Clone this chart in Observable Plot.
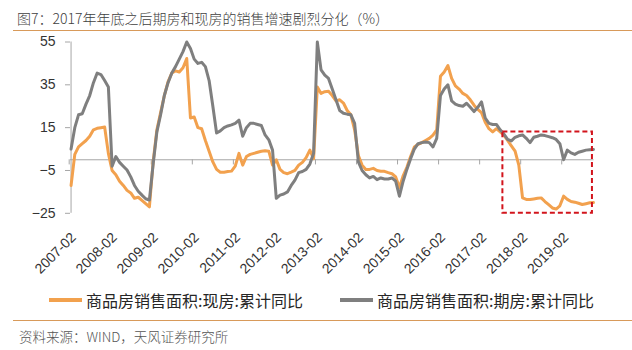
<!DOCTYPE html>
<html><head><meta charset="utf-8">
<script src="https://cdn.jsdelivr.net/npm/d3@7"></script>
<script src="https://cdn.jsdelivr.net/npm/@observablehq/plot@0.6"></script>
<style>
body{margin:0;background:#fff;font-family:"Noto Sans CJK SC",sans-serif;}
#wrap{position:relative;width:632px;height:350px;overflow:hidden;background:#fff;}
#title{position:absolute;left:17px;top:9px;font-size:14px;color:#404040;line-height:18px;white-space:nowrap;font-weight:300;}
.rule{position:absolute;left:13px;width:619px;height:0;border-top:1.5px solid #D89A5A;}
#chart{position:absolute;left:0;top:32px;}
#legend{position:absolute;top:289px;left:0;width:632px;height:22px;font-size:16px;color:#262626;}
.item{position:absolute;top:0;display:flex;align-items:center;height:22px;white-space:nowrap;}
.sw{display:inline-block;width:33px;height:3.5px;margin-right:4px;}
#source{position:absolute;left:19px;top:327px;font-size:13.5px;color:#555;line-height:18px;white-space:nowrap;font-weight:300;}
</style></head><body>
<div id="wrap">
  <div id="title">图7：2017年年底之后期房和现房的销售增速剧烈分化（%）</div>
  <div class="rule" style="top:30px"></div>
  <div id="chart"></div>
  <div id="legend"></div>
  <div class="rule" style="top:320px"></div>
  <div id="source">资料来源：WIND，天风证券研究所</div>
</div>
<script>
// Categories: monthly cumulative data, Feb–Dec each year (Jan-Feb combined), 2007-02 .. 2019-10
const years = [2007,2008,2009,2010,2011,2012,2013,2014,2015,2016,2017,2018,2019];
const months = [];
for (const y of years) for (let m = 2; m <= 12; m++) {
  if (y === 2019 && m > 10) break;
  months.push(`${y}-${String(m).padStart(2,"0")}`);
}
const xTickLabels = years.map(y => `${y}-02`);
const yTicks = [-25, -5, 15, 35, 55];

const seriesNames = ["商品房销售面积:现房:累计同比", "商品房销售面积:期房:累计同比"];
const seriesColors = ["#F2A14E", "#7F7F7F"];

// 现房 (completed housing) cumulative YoY, %
const spotValues = [
  -12, 2.5, 6, 7.5, 9, 11, 14, 14.7, 15, 15.3, 3,
  -5, -7, -10, -12, -14.3, -15.5, -18, -17.5, -19, -20.5, -22,
  -1, 14, 22, 30, 36.5, 40.5, 41.5, 41, 43, 47.3, 19.5,
  20, 15, 14.5, 9, 4, -1, -4.5, -5.8, -5.8, -5.5, -5.3,
  -3, 3, -2.5, 1.5, 2.5, 3, 3.5, 4, 4.2, 4, -2.5,
  0, -4.5, -6, -6.5, -5.8, -5, -2.5, -1.2, 1, 4.5, 0.5,
  34, 31, 31.8, 32, 30, 27.5, 28, 26.5, 23, 21, 14,
  2, -2.5, -4.5, -4.5, -4, -5, -5.4, -5.4, -6, -6.5, -8,
  -13, -7.5, -3.5, 1.5, 6, 7.2, 8, 9, 10, 11.5, 14,
  39, 41, 44, 38, 34.5, 33, 31, 30, 28, 25.5, 23.5,
  22, 17.5, 14.5, 13, 14.5, 13, 11.5, 9, 6.5, 4, -2.5,
  -17.8, -18.5, -18.6, -18.3, -18, -17.8, -19.5, -21, -22.5, -23, -21.5,
  -17, -18.5, -19.5, -19.8, -20.3, -20.9, -20.5, -20.1, -20
];
// 期房 (pre-sale housing) cumulative YoY, %
const futureValues = [
  5, 15, 21, 21.5, 26, 30, 36, 40.5, 39.8, 37, 34,
  -3, 1.5, -1.2, -3, -4.8, -8, -12, -14.7, -16.5, -18.2, -18.8,
  -2, 13, 21, 30, 36, 40.5, 43.5, 47, 50.5, 55, 52,
  47, 45, 45.5, 43.5, 37, 25, 12.5, 13.5, 15, 15.8, 16.3,
  17, 18.5, 11, 15, 17, 17, 16.5, 16, 11.6, 9.3, 4.5,
  -18, -16.5, -16, -15, -12, -9.5, -6, -5.5, -4.5, -2, 3,
  55, 42, 39.5, 38, 33, 28, 23, 21.7, 21.3, 21, 17,
  -1, -5, -7, -8.5, -7.8, -9.3, -8.5, -9, -9, -8.5, -10,
  -17, -10, -4.5, 0.5, 5, 7.5, 8, 8.3, 8, 6, 10,
  30, 33, 35, 27.5, 26, 25.3, 25, 26.4, 24.5, 22.5, 24.5,
  27, 19.5, 17, 16.5, 16.5, 14, 12, 9.5, 8.8, 10.5, 11.2,
  11.6, 10, 8, 10.5, 11, 11.6, 11.3, 10.8, 10.3, 9.5, 7.5,
  0, 4.5, 3.2, 2.5, 3.5, 4, 4.5, 4.7, 4.8
];
// highlighted divergence window
const highlight = [{from: "2017-08", to: "2019-10", low: -25, high: 13}];

const spot = months.map((m, i) => ({month: m, v: spotValues[i]}));
const future = months.map((m, i) => ({month: m, v: futureValues[i]}));

const axisColor = "#a6a6a6";
const chart = Plot.plot({
  width: 632, height: 250,
  marginLeft: 70, marginRight: 38.5, marginTop: 9.5, marginBottom: 69.2,
  style: {fontFamily: "'Liberation Sans', Arial, sans-serif", fontSize: "14px", color: "#333", background: "transparent"},
  x: {type: "point", domain: months, padding: 0.15, axis: null},
  y: {domain: [-25, 55], axis: null},
  marks: [
    Plot.ruleY([0], {stroke: axisColor, strokeWidth: 1}),
    Plot.ruleX(xTickLabels, {x: d => d, y1: 0, y2: -2.4, dx: -1.87, stroke: axisColor}),
    Plot.ruleX([months[0]], {y1: -25, y2: 55, stroke: axisColor}),
    Plot.axisY({ticks: yTicks, tickSize: 5, tickPadding: 10, stroke: axisColor, fill: "#333", fontSize: 14}),
    Plot.text(xTickLabels, {x: d => d, frameAnchor: "bottom", rotate: -45, textAnchor: "end", lineAnchor: "middle", dx: 2.5, dy: 21.7, fontSize: 14, fill: "#333"}),
    Plot.line(spot, {x: "month", y: "v", stroke: seriesColors[0], strokeWidth: 3, strokeLinejoin: "round"}),
    Plot.line(future, {x: "month", y: "v", stroke: seriesColors[1], strokeWidth: 3, strokeLinejoin: "round"}),
    Plot.rect(highlight, {x1: "from", x2: "to", y1: "low", y2: "high", dx: -1, fill: "none", stroke: "#D2141C", strokeWidth: 2, strokeDasharray: "5,3"})
  ]
});
document.getElementById("chart").appendChild(chart);

const legend = document.getElementById("legend");
const lefts = [49, 340];
seriesNames.forEach((name, i) => {
  const it = document.createElement("div");
  it.className = "item";
  it.style.left = lefts[i] + "px";
  it.innerHTML = `<span class="sw" style="background:${seriesColors[i]}"></span><span>${name}</span>`;
  legend.appendChild(it);
});
</script>
</body></html>
